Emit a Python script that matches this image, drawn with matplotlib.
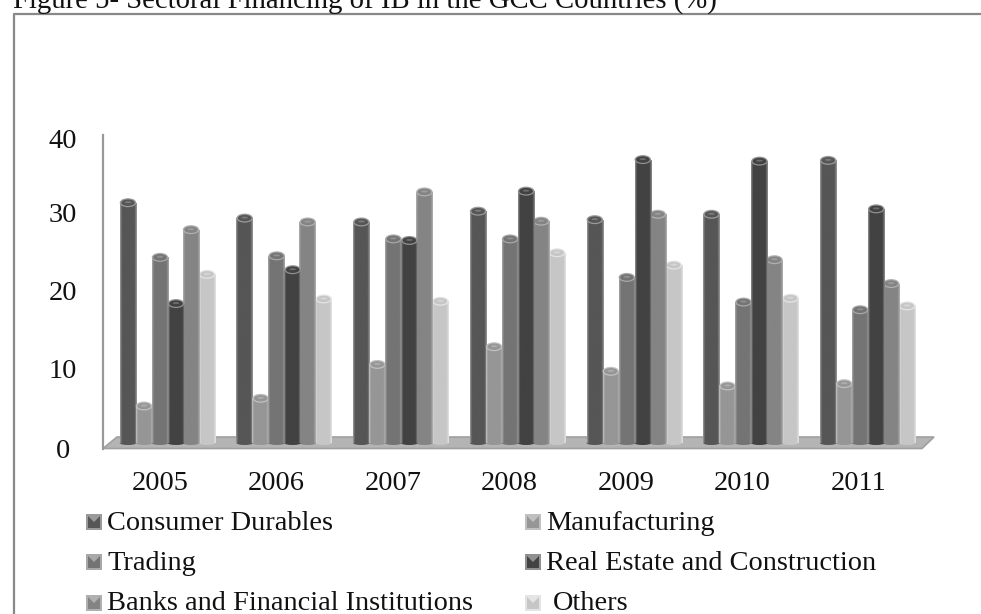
import numpy as np
import matplotlib
matplotlib.use("Agg")
import matplotlib.pyplot as plt
from matplotlib.patches import Polygon, Rectangle, Ellipse
from matplotlib.colors import LinearSegmentedColormap

W, H = 981, 614
years = ["2005", "2006", "2007", "2008", "2009", "2010", "2011"]
consumer = [31.4, 29.4, 28.9, 30.3, 29.2, 29.9, 36.9]
manufacturing = [5.0, 6.0, 10.4, 12.7, 9.5, 7.6, 7.9]
trading = [24.3, 24.5, 26.7, 26.7, 21.7, 18.5, 17.5]
real_estate = [18.3, 22.7, 26.5, 32.9, 37.0, 36.8, 30.6]
banks = [27.9, 28.9, 32.8, 29.0, 29.9, 24.0, 20.9]
others = [22.1, 18.9, 18.6, 24.9, 23.3, 19.0, 18.0]
series = [consumer, manufacturing, trading, real_estate, banks, others]
names = ["Consumer Durables", "Manufacturing", "Trading",
         "Real Estate and Construction", "Banks and Financial Institutions", "Others"]
colors = ["#565656", "#969696", "#747474", "#424242", "#848484", "#c6c6c6"]
edges = ["#9a9a9a", "#c0c0c0", "#a8a8a8", "#909090", "#b0b0b0", "#e4e4e4"]
layer = [3.0, 3.1, 3.3, 3.5, 3.4, 3.2]

fig = plt.figure(figsize=(W/100, H/100), dpi=100)
bg = fig.add_axes([0, 0, 1, 1]); bg.set_xlim(0, W); bg.set_ylim(H, 0); bg.axis("off")

bg.text(13, 9, "Figure 5- Sectoral Financing of IB in the GCC Countries (%)",
        family="Liberation Serif", fontsize=20.7, va="baseline", ha="left", color="#111111")
bg.plot([13.5, 13.5, W], [H, 14, 14], color="#888888", lw=1.6, solid_capstyle="butt")

y0, y40 = 443, 135
ax = fig.add_axes([0, 1-y0/H, 1, (y0-y40)/H])
ax.set_xlim(0, W); ax.set_ylim(0, 40); ax.axis("off"); ax.patch.set_alpha(0)
px = (y0-y40)/40

bg.add_patch(Polygon([(103, 448.5), (117, 437), (934, 437), (922, 448.5)],
                     closed=True, fc="#b4b4b4", ec="#a0a0a0", lw=1.2, zorder=1))
bg.plot([103, 103], [135, 449], color="#999999", lw=1.6, zorder=2)

bar_centers = [149 + 116.7*i for i in range(len(years))]
label_centers = [160 + 116.5*i for i in range(len(years))]
offsets = [-21, -5, 11, 27, 42, 58]
bw = 16.5
for s in range(6):
    base = colors[s]
    z = layer[s]
    cm = LinearSegmentedColormap.from_list(
        "c", [(0, edges[s]), (0.12, base), (0.86, base), (1, edges[s])])
    bars = ax.bar([c + offsets[s] for c in bar_centers], series[s], width=bw,
                  color=base, linewidth=0, zorder=z)
    grad = np.linspace(0, 1, 64).reshape(1, -1)
    for b in bars:
        x, w, h = b.get_x(), b.get_width(), b.get_height()
        cap_y = h - 1.5/px
        im = ax.imshow(grad, extent=[x, x+w, 0, cap_y], aspect="auto", cmap=cm,
                       zorder=z+0.01, interpolation="bilinear")
        b.set_height(cap_y)
        im.set_clip_path(b)
        ax.add_patch(Ellipse((x+w/2, cap_y), w, 9/px, fc=edges[s], ec="none", zorder=z+0.02))
        ax.add_patch(Ellipse((x+w/2, cap_y), w-3, 6.5/px, fc=base, ec="none", zorder=z+0.025))
        ax.add_patch(Ellipse((x+w/2, cap_y+0.5/px), w*0.4, 2/px, fc=edges[s], ec="none",
                             alpha=.55, zorder=z+0.03))
        ax.add_patch(Ellipse((x+w/2, 0), w, 4/px, fc=base, ec="none",
                             zorder=z-0.05, clip_on=False))
ax.set_xlim(0, W); ax.set_ylim(0, 40)

serif = "Liberation Serif"
fs = 20.4
for v, yp in zip([0, 10, 20, 30, 40], [452, 372, 294, 216, 142]):
    bg.text(63, yp, str(v), family=serif, fontsize=fs, ha="center", va="center", color="#111111")
for c, t in zip(label_centers, years):
    bg.text(c, 483, t, family=serif, fontsize=fs, ha="center", va="center", color="#111111")

mark_x = [86, 525]
text_x = [107, 546, 107, 546, 107, 553]
mark_y = [522, 562, 603]
base_y = [530, 570, 610.5]
for i, n in enumerate(names):
    mx, yy = mark_x[i % 2], mark_y[i//2]
    bg.add_patch(Rectangle((mx, yy-8), 16, 16, fc=edges[i], ec="none", zorder=4))
    bg.add_patch(Rectangle((mx+2, yy-6), 12, 12, fc=colors[i], ec="none", zorder=5))
    bg.add_patch(Polygon([(mx+2, yy-6), (mx+14, yy-6), (mx+8, yy)], fc=edges[i], ec="none", zorder=6))
    bg.text(text_x[i], base_y[i//2], n, family=serif, fontsize=fs, ha="left", va="baseline", color="#111111")

fig.savefig("out.png", dpi=100)
